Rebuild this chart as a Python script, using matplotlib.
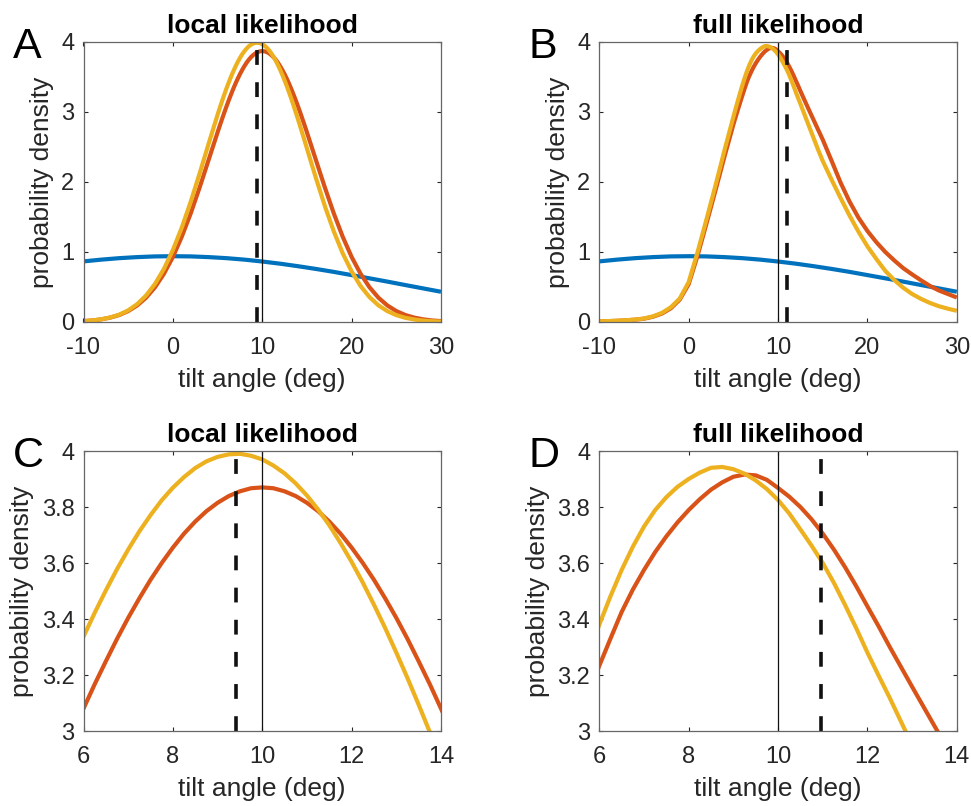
import matplotlib
matplotlib.use("Agg")
import matplotlib.pyplot as plt

plt.rcParams['font.family'] = ['Liberation Sans', 'DejaVu Sans']
plt.rcParams['axes.unicode_minus'] = False

# Tilt-angle grid (deg); finer spacing around the peak
angle = [-10, -9, -8, -7, -6, -5, -4, -3, -2, -1, 0, 1, 2, 3, 4,
         5, 5.25, 5.5, 5.75, 6, 6.25, 6.5, 6.75, 7, 7.25, 7.5, 7.75,
         8, 8.25, 8.5, 8.75, 9, 9.25, 9.5, 9.75, 10, 10.25, 10.5, 10.75,
         11, 11.25, 11.5, 11.75, 12, 12.25, 12.5, 12.75, 13, 13.25, 13.5, 13.75,
         14, 14.25, 14.5, 14.75, 15,
         16, 17, 18, 19, 20, 21, 22, 23, 24, 25, 26, 27, 28, 29, 30]

# Broad prior density
prior_angle = [-10, -8, -6, -4, -2, 0, 2, 4, 6, 8, 10,
               12, 14, 16, 18, 20, 22, 24, 26, 28, 30]
prior = [0.866, 0.891, 0.912, 0.927, 0.937, 0.940, 0.937, 0.927, 0.912, 0.891, 0.864,
         0.833, 0.797, 0.758, 0.716, 0.670, 0.624, 0.577, 0.528, 0.480, 0.432]

# Densities under the local likelihood
local_red = [0.013, 0.022, 0.038, 0.063, 0.100, 0.156, 0.236, 0.347, 0.496, 0.689,
             0.929, 1.219, 1.553, 1.924, 2.316,
             2.709, 2.805, 2.899, 2.991, 3.080, 3.167, 3.249, 3.329, 3.404, 3.474,
             3.540, 3.600, 3.655, 3.705, 3.748, 3.785, 3.815, 3.839, 3.856, 3.867,
             3.870, 3.867, 3.856, 3.839, 3.815, 3.785, 3.748, 3.705, 3.655, 3.600,
             3.540, 3.474, 3.404, 3.329, 3.249, 3.167, 3.080, 2.991, 2.899, 2.805, 2.709,
             2.316, 1.924, 1.553, 1.219, 0.929, 0.689, 0.496, 0.347, 0.236, 0.156,
             0.100, 0.063, 0.038, 0.022, 0.013]
local_yellow = [0.013, 0.022, 0.039, 0.065, 0.105, 0.166, 0.255, 0.378, 0.544, 0.759,
                1.028, 1.350, 1.720, 2.125, 2.547,
                2.960, 3.059, 3.155, 3.248, 3.337, 3.422, 3.502, 3.578, 3.648, 3.713,
                3.771, 3.824, 3.869, 3.907, 3.939, 3.963, 3.979, 3.988, 3.990, 3.983,
                3.970, 3.948, 3.920, 3.884, 3.841, 3.791, 3.735, 3.672, 3.604, 3.530,
                3.451, 3.368, 3.280, 3.189, 3.094, 2.996, 2.896, 2.793, 2.690, 2.585, 2.479,
                2.059, 1.658, 1.296, 0.982, 0.722, 0.514, 0.355, 0.238, 0.155, 0.098,
                0.060, 0.036, 0.020, 0.011, 0.006]

# Densities under the full likelihood
full_red = [0.010, 0.012, 0.017, 0.024, 0.033, 0.047, 0.075, 0.120, 0.195, 0.320,
            0.540, 0.950, 1.410, 1.880, 2.360,
            2.820, 2.926, 3.030, 3.133, 3.233, 3.330, 3.425, 3.505, 3.575, 3.639,
            3.695, 3.745, 3.789, 3.828, 3.862, 3.888, 3.908, 3.916, 3.913, 3.897,
            3.868, 3.837, 3.800, 3.756, 3.705, 3.648, 3.585, 3.517, 3.445, 3.374,
            3.300, 3.229, 3.158, 3.088, 3.018, 2.949, 2.880, 2.811, 2.742, 2.674, 2.605,
            2.300, 1.990, 1.720, 1.490, 1.300, 1.140, 1.000, 0.880, 0.770, 0.680,
            0.595, 0.515, 0.450, 0.400, 0.350]
full_yellow = [0.010, 0.013, 0.018, 0.025, 0.035, 0.050, 0.080, 0.130, 0.210, 0.335,
               0.570, 1.000, 1.470, 1.950, 2.450,
               2.930, 3.047, 3.160, 3.272, 3.380, 3.481, 3.575, 3.658, 3.730, 3.789,
               3.835, 3.872, 3.900, 3.923, 3.940, 3.943, 3.935, 3.919, 3.895, 3.864,
               3.825, 3.777, 3.720, 3.662, 3.600, 3.529, 3.450, 3.367, 3.280, 3.198,
               3.118, 3.034, 2.950, 2.868, 2.785, 2.703, 2.620, 2.538, 2.455, 2.378, 2.300,
               2.030, 1.770, 1.520, 1.290, 1.080, 0.900, 0.730, 0.600, 0.490, 0.400,
               0.330, 0.272, 0.225, 0.190, 0.160]

true_tilt = 10
local_estimate = 9.42
full_estimate = 10.95

wide_xticks = [-10, 0, 10, 20, 30]
wide_xlabels = ['-10', '0', '10', '20', '30']
wide_yticks = [0, 1, 2, 3, 4]
wide_ylabels = ['0', '1', '2', '3', '4']
zoom_xticks = [6, 8, 10, 12, 14]
zoom_xlabels = ['6', '8', '10', '12', '14']
zoom_yticks = [3, 3.2, 3.4, 3.6, 3.8, 4]
zoom_ylabels = ['3', '3.2', '3.4', '3.6', '3.8', '4']

BLUE = '#0072BD'
RED = '#D95319'
YELLOW = '#EDB120'
AXCOL = '#262626'

W, H = 971, 806
fig = plt.figure(figsize=(W / 100, H / 100), dpi=100)

panels = [
    # letter, title, red, yellow, estimate, xlim, ylim, ticks, box (px: left, top)
    ('A', 'local likelihood', local_red, local_yellow, local_estimate,
     (-10, 30), (0, 4), wide_xticks, wide_xlabels, wide_yticks, wide_ylabels, (83.5, 42)),
    ('B', 'full likelihood', full_red, full_yellow, full_estimate,
     (-10, 30), (0, 4), wide_xticks, wide_xlabels, wide_yticks, wide_ylabels, (599.3, 42)),
    ('C', 'local likelihood', local_red, local_yellow, local_estimate,
     (6, 14), (3, 4), zoom_xticks, zoom_xlabels, zoom_yticks, zoom_ylabels, (83.5, 451)),
    ('D', 'full likelihood', full_red, full_yellow, full_estimate,
     (6, 14), (3, 4), zoom_xticks, zoom_xlabels, zoom_yticks, zoom_ylabels, (599.3, 451)),
]

aw, ah = 357.5, 280
for (letter, title, red, yellow, est, xlim, ylim,
     xt, xtl, yt, ytl, (left, top)) in panels:
    ax = fig.add_axes([left / W, 1 - (top + ah) / H, aw / W, ah / H])
    ax.plot(prior_angle, prior, color=BLUE, lw=3.0, solid_capstyle='butt')
    ax.plot(angle, red, color=RED, lw=3.0, solid_capstyle='butt',
            solid_joinstyle='round')
    ax.plot(angle, yellow, color=YELLOW, lw=3.0, solid_capstyle='butt',
            solid_joinstyle='round')
    ax.axvline(true_tilt, color='#111111', lw=0.9)
    ax.axvline(est, color='#111111', lw=2.6, linestyle=(0, (4.1, 4.8)),
               dash_capstyle='butt')

    ax.set_xlim(*xlim)
    ax.set_ylim(*ylim)
    ax.set_xticks(xt)
    ax.set_xticklabels(xtl)
    ax.set_yticks(yt)
    ax.set_yticklabels(ytl)
    ax.tick_params(direction='in', top=True, right=True, length=3.2,
                   width=0.8, colors=AXCOL, labelsize=17)
    ax.tick_params(axis='x', pad=11)
    ax.tick_params(axis='y', pad=6.5)
    for sp in ax.spines.values():
        sp.set_color('#666666')
        sp.set_linewidth(0.9)

    ax.set_xlabel('tilt angle (deg)', fontsize=19, color=AXCOL, labelpad=6)
    ax.set_ylabel('probability density', fontsize=19, color=AXCOL, labelpad=5.5)
    ax.set_title(title, fontsize=19, fontweight='bold', color='black', pad=6.5)

    fig.text((left - 70.5) / W, 1 - (top + 16) / H, letter, fontsize=31,
             ha='left', va='baseline', color='black')

fig.savefig('out.png', dpi=100)
